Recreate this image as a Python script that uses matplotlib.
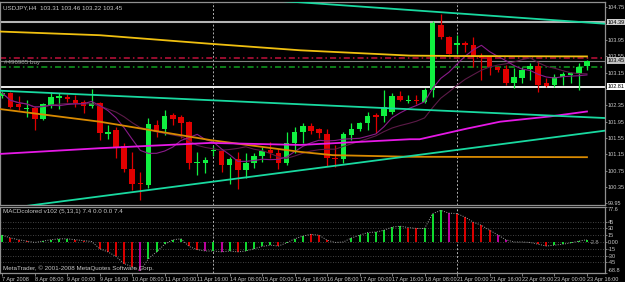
import numpy as np
import pandas as pd
import matplotlib
matplotlib.use('Agg')
import matplotlib.pyplot as plt

# USDJPY H4, bars from 7 Apr 2008 16:00 to 23 Apr 2008 16:00
opens = [102.57, 102.65, 102.38, 102.26, 102.28, 102.01, 102.33, 102.52, 102.55, 102.48,
         102.43, 102.33, 102.40, 101.64, 101.74, 101.35, 100.79, 100.44, 100.40, 101.86,
         101.77, 102.11, 102.06, 101.94, 100.94, 100.94, 101.23, 101.23, 100.89, 101.03,
         100.76, 100.94, 101.11, 101.25, 101.18, 100.94, 101.42, 101.69, 101.84, 101.77,
         101.64, 101.06, 101.03, 101.62, 101.77, 101.91, 102.11, 102.08, 102.18, 102.57,
         102.46, 102.49, 102.43, 102.72, 104.33, 104.02, 103.82, 103.89, 103.82, 103.53,
         103.53, 103.28, 103.23, 102.89, 103.01, 103.23, 103.31, 102.89, 102.84, 103.04,
         103.09, 103.11, 103.31]
highs = [102.70, 102.67, 102.57, 102.48, 102.33, 102.40, 102.67, 102.65, 102.62, 102.60,
         102.48, 102.75, 102.43, 101.86, 101.82, 101.42, 101.20, 100.72, 102.04, 101.99,
         102.23, 102.16, 102.11, 101.96, 101.20, 101.08, 101.35, 101.25, 101.08, 101.20,
         101.18, 101.18, 101.33, 101.45, 101.28, 101.69, 101.82, 101.91, 101.91, 101.79,
         101.77, 101.38, 101.69, 101.91, 101.94, 102.18, 102.16, 102.72, 102.65, 102.70,
         102.60, 102.60, 102.77, 104.41, 104.60, 104.04, 104.07, 103.92, 104.02, 103.63,
         103.55, 103.31, 103.33, 103.26, 103.28, 103.40, 103.45, 103.01, 103.13, 103.16,
         103.18, 103.38, 103.46]
lows = [102.52, 102.28, 102.23, 102.06, 101.74, 101.99, 102.28, 102.26, 102.43, 102.30,
        102.16, 102.28, 101.50, 101.52, 101.06, 100.72, 100.28, 100.03, 100.32, 101.57,
        101.62, 101.86, 101.55, 100.79, 100.64, 100.69, 101.10, 100.72, 100.42, 100.30,
        100.57, 100.81, 100.96, 101.06, 100.79, 100.89, 101.18, 101.42, 101.64, 101.55,
        100.86, 100.84, 100.94, 101.50, 101.72, 101.74, 101.67, 101.94, 102.13, 102.45,
        102.40, 102.38, 102.40, 102.55, 103.97, 103.60, 103.62, 103.65, 103.28, 102.97,
        103.09, 103.16, 102.84, 102.77, 102.89, 102.96, 102.67, 102.79, 102.79, 102.84,
        102.89, 102.72, 103.22]
closes = [102.65, 102.30, 102.30, 102.29, 102.01, 102.38, 102.55, 102.57, 102.50, 102.40,
          102.33, 102.40, 101.67, 101.69, 101.33, 100.79, 100.42, 100.42, 101.89, 101.69,
          102.08, 102.01, 101.91, 100.94, 100.96, 101.01, 101.25, 100.89, 101.03, 100.76,
          100.94, 101.11, 101.23, 101.18, 100.94, 101.42, 101.69, 101.84, 101.72, 101.67,
          101.06, 101.03, 101.64, 101.77, 101.91, 102.08, 102.06, 102.30, 102.57, 102.48,
          102.48, 102.46, 102.72, 104.36, 104.02, 103.62, 103.89, 103.82, 103.55, 103.50,
          103.28, 103.21, 102.89, 103.04, 103.21, 103.31, 102.84, 102.82, 103.04, 103.11,
          103.14, 103.28, 103.45]

# MACD histogram and its colour code (g up, r down, m turn)
macd_hist = [15, 9, 5, 2, -1, 2, 5, 7, 7, 5, 3, 1, -15, -22, -32, -48, -55, -64, -37, -22,
             -5, 5, 7, -10, -17, -20, -20, -22, -20, -22, -20, -15, -10, -7, -9, -2, 7, 13, 17, 15,
             4, -1, 0, 9, 15, 21, 22, 26, 33, 35, 32, 30, 30, 63, 70, 64, 63, 55, 44, 37,
             26, 16, 5, 0, 0, -1, -5, -9, -7, -5, -2, 2, 5]
macd_col = list('grrrrggggrrrrrrrrmgggggrrmgmgrggggrgggrrrrggggggggrrgggmrrrrrmmgggrrgggggg')[:73]

# time axis labels (bar index, text)
tick_idx = [0, 4, 8, 12, 16, 20, 24, 28, 32, 36, 40, 44, 48, 52, 56, 60, 64, 68, 72]
tick_txt = ['7 Apr 2008', '8 Apr 08:00', '9 Apr 00:00', '9 Apr 16:00', '10 Apr 08:00',
            '11 Apr 00:00', '11 Apr 16:00', '14 Apr 08:00', '15 Apr 00:00', '15 Apr 16:00',
            '16 Apr 08:00', '17 Apr 00:00', '17 Apr 16:00', '18 Apr 08:00', '21 Apr 00:00',
            '21 Apr 16:00', '22 Apr 08:00', '23 Apr 00:00', '23 Apr 16:00']
week_sep = [26, 56]

# trend lines and long averages (bar index, price)
tl_top_x, tl_top_y = [30, 75], [104.97, 104.34]
tl_mid_x, tl_mid_y = [-0.3, 74.2], [102.71, 102.04]
tl_low_x, tl_low_y = [-0.3, 74.2], [99.80, 101.73]
ma_yel_x = [-0.3, 12, 25.6, 36.7, 50.2, 56, 72]
ma_yel_y = [104.16, 104.07, 103.86, 103.70, 103.57, 103.56, 103.55]
ma_ora_x = [-0.3, 12, 25.6, 36.7, 40.7, 50.2, 72]
ma_ora_y = [102.26, 101.95, 101.50, 101.21, 101.13, 101.09, 101.08]
ma_mag_x = [-0.3, 12, 25.6, 36.7, 50.2, 51.4, 57.2, 61.3, 67.5, 72]
ma_mag_y = [101.16, 101.30, 101.43, 101.38, 101.52, 101.52, 101.78, 101.95, 102.08, 102.20]

# horizontal levels
lvl_high, lvl_low, bid = 104.39, 102.81, 103.45
stop_lvl, order_lvl = 103.50, 103.28

price_ticks = [104.75, 104.35, 103.95, 103.55, 103.15, 102.75, 102.35, 101.95,
               101.55, 101.15, 100.75, 100.35, 99.95]
hidden_ticks = [104.35, 102.75]   # covered by the line price boxes
macd_ticks = [77.6, 45, 30, 15, 0, -15, -30, -45, -68.8]
macd_tick_txt = ['77.6', '45', '30', '15', '0.00', '-15', '-30', '-45', '-68.8']

plt.rcParams['font.family'] = ['Liberation Sans Narrow', 'Liberation Sans', 'DejaVu Sans']
FS = 4.5      # panel texts
AFS = 4.0     # axis labels
TXT = '#c8c8c8'
GRID = '#909090'
W, H = 625, 282


def rect(x0, y0, x1, y1):
    return [x0 / W, 1 - y1 / H, (x1 - x0) / W, (y1 - y0) / H]


fig = plt.figure(figsize=(6.25, 2.82), dpi=100, facecolor='black')
ax = fig.add_axes(rect(0, 2, 605, 205), facecolor='black')
mac = fig.add_axes(rect(0, 207, 605, 273), facecolor='black', sharex=ax)

x = np.arange(len(closes))
o = np.array(opens); c = np.array(closes)
up = c >= o
bull, bear = '#10f040', '#e00000'
cols = np.where(up, bull, bear)

# candles
ax.vlines(x, lows, highs, colors=cols, lw=0.9, zorder=3)
bottom = np.minimum(o, c)
height = np.maximum(np.abs(c - o), 0.012)
ax.bar(x, height, bottom=bottom, width=0.68, color=cols, zorder=4, linewidth=0)

# moving averages of the closes
cs = pd.Series(closes)
ax.plot(x, cs.rolling(13, min_periods=1).mean(), color='#5c1a48', lw=0.8, zorder=5)
ax.plot(x, cs.rolling(7, min_periods=1).mean(), color='#8a1a8a', lw=0.8, zorder=5)

ax.plot(ma_yel_x, ma_yel_y, color='#f0c010', lw=1.3, zorder=5)
ax.plot(ma_ora_x, ma_ora_y, color='#d98a00', lw=1.3, zorder=5)
ax.plot(ma_mag_x, ma_mag_y, color='#e619e6', lw=1.3, zorder=5)

teal = '#19d9a0'
for tx, ty in [(tl_top_x, tl_top_y), (tl_mid_x, tl_mid_y), (tl_low_x, tl_low_y)]:
    ax.plot(tx, ty, color=teal, lw=1.3, zorder=6)

ax.axhline(lvl_high, color='#b4b4b4', lw=1.5, zorder=2)
ax.axhline(lvl_low, color='white', lw=1.3, zorder=2)
ax.axhline(bid, color='#808080', lw=0.8, zorder=2)
ax.axhline(stop_lvl, color='#c0103c', lw=1.1, ls=(0, (4, 2, 1, 2)), zorder=2)
ax.axhline(order_lvl, color='#10a020', lw=1.1, ls=(0, (4, 2, 1, 2)), zorder=2)

for s in week_sep:
    ax.axvline(s, color='#b0b0b0', lw=0.7, ls=(0, (2, 2)), zorder=1)
    mac.axvline(s, color='#b0b0b0', lw=0.7, ls=(0, (2, 2)), zorder=1)

ax.set_xlim(-0.283, 74.22)
ax.set_ylim(99.908, 104.884)
ax.yaxis.tick_right()
ax.set_yticks(price_ticks)
ax.set_yticklabels(['' if p in hidden_ticks else '%.2f' % p for p in price_ticks])
ax.tick_params(axis='y', colors=GRID, labelcolor=TXT, labelsize=AFS, length=1.2, width=0.6, pad=0.8)
ax.tick_params(axis='x', bottom=False, labelbottom=False)
for sp in ax.spines.values():
    sp.set_color(GRID)
    sp.set_linewidth(0.9)

for val, fc in [(lvl_high, '#d0d0d0'), (bid, '#c0c0c0'), (lvl_low, 'white')]:
    ax.annotate('%.2f' % val, xy=(1, val), xycoords=('axes fraction', 'data'),
                xytext=(1.6, 0), textcoords='offset points', ha='left', va='center',
                fontsize=AFS, color='black', annotation_clip=False,
                bbox=dict(boxstyle='square,pad=0.12', fc=fc, ec='none'))

ax.text(0.005, 0.985, 'USDJPY,H4  103.31 103.46 103.22 103.45', transform=ax.transAxes,
        va='top', ha='left', fontsize=FS, color=TXT)
ax.text(0.2, order_lvl + 0.11, '#496985 buy', va='center', ha='left',
        fontsize=FS, color='#a0a0a0', zorder=7)

# MACD panel
for g in [45, 30, 15, 0, -15, -30, -45]:
    mac.axhline(g, color='#5a5a5a', lw=0.6, ls=(0, (1, 2)), zorder=0)
cmap = {'g': '#10e030', 'r': '#e00000', 'm': '#c000a0'}
mac.vlines(x, 0, macd_hist, colors=[cmap[k] for k in macd_col], lw=1.4, zorder=3)
mac.plot(x, macd_hist, color='#a0a0a0', lw=0.7, ls=(0, (1, 1.5)), zorder=4)
mac.set_ylim(-68.8, 77.6)
mac.yaxis.tick_right()
mac.set_yticks(macd_ticks)
mac.set_yticklabels(macd_tick_txt)
mac.tick_params(axis='y', colors=GRID, labelcolor=TXT, labelsize=AFS, length=1.2, width=0.6, pad=0.8)
ticks = mac.yaxis.get_major_ticks()
ticks[0].label2.set_va('top')
ticks[-1].label2.set_va('bottom')
mac.set_xticks(tick_idx)
mac.set_xticklabels(tick_txt, ha='left')
mac.tick_params(axis='x', colors=GRID, labelcolor=TXT, labelsize=AFS, length=2, width=0.6, pad=1)
for sp in mac.spines.values():
    sp.set_color(GRID)
    sp.set_linewidth(0.9)

mac.text(0.005, 0.925, 'MACDcolored v102 (5,13,1) 7.4 0.0 0.0 7.4', transform=mac.transAxes,
         va='center', ha='left', fontsize=FS, color=TXT)
mac.text(0.005, 0.076, 'MetaTrader, \u00a9 2001-2008 MetaQuotes Software Corp.', transform=mac.transAxes,
         va='center', ha='left', fontsize=FS, color=TXT)
mac.text(72.4, -1.5, '-2.8', va='center', ha='left', fontsize=AFS, color='#a0a0a0', zorder=6)

fig.savefig('out.png', dpi=100, facecolor='black')
